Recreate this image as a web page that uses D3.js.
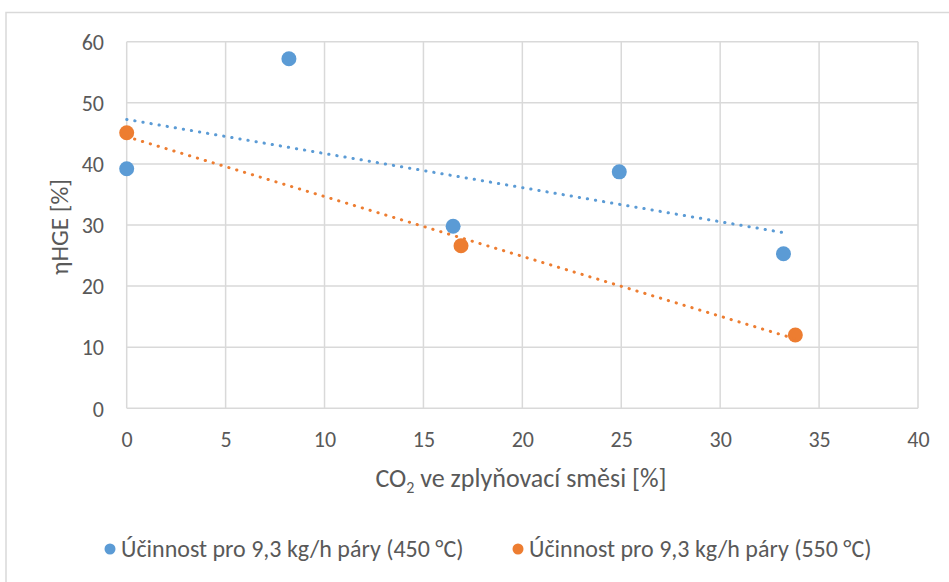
<!DOCTYPE html>
<html>
<head>
<meta charset="utf-8">
<script src="https://cdn.jsdelivr.net/npm/d3@7"></script>
<style>
  html, body { margin: 0; padding: 0; background: #fff; }
  svg { display: block; }
  text { font-family: Carlito, Calibri, Lato, "Open Sans", sans-serif; fill: #595959; }
</style>
</head>
<body>
<svg id="chart" width="949" height="582"></svg>
<script>
// ---- data ----
const seriesNames = ["Účinnost pro 9,3 kg/h páry (450 °C)", "Účinnost pro 9,3 kg/h páry (550 °C)"];
const co2_450 = [0, 8.2, 16.5, 24.9, 33.2];
const eff_450 = [39.2, 57.2, 29.8, 38.7, 25.3];
const co2_550 = [0, 16.9, 33.8];
const eff_550 = [45.1, 26.6, 12.0];
const xTicks = [0, 5, 10, 15, 20, 25, 30, 35, 40];
const yTicks = [0, 10, 20, 30, 40, 50, 60];
const xTitle = "ve zplyňovací směsi [%]";
const yTitle = "ηHGE [%]";
const colors = ["#5B9BD5", "#ED7D31"];

const svg = d3.select("#chart");
const W = 949, H = 582;

// outer chart border
svg.append("rect").attr("x", 6).attr("y", 12.5).attr("width", W + 10).attr("height", H + 10)
  .attr("fill", "#fff").attr("stroke", "#d9d9d9").attr("stroke-width", 1.5);

const x = d3.scaleLinear().domain([0, 40]).range([126.7, 918]);
const y = d3.scaleLinear().domain([0, 60]).range([408.3, 41.7]);

// gridlines
const grid = svg.append("g");
grid.selectAll("line.v").data(xTicks).join("line")
  .attr("x1", d => x(d)).attr("x2", d => x(d)).attr("y1", y(0)).attr("y2", y(60))
  .attr("stroke", "#d9d9d9").attr("stroke-width", 1.5);
grid.selectAll("line.h").data(yTicks).join("line")
  .attr("x1", x(0)).attr("x2", x(40)).attr("y1", d => y(d)).attr("y2", d => y(d))
  .attr("stroke", "#d9d9d9").attr("stroke-width", 1.5);

// axes (labels only)
const xAxis = d3.axisBottom(x).tickValues(xTicks).tickSize(0).tickPadding(0).tickFormat(d3.format("d"));
const gx = svg.append("g").attr("transform", `translate(0,${y(0)})`).call(xAxis);
gx.select(".domain").remove();
gx.selectAll("text").attr("dy", null).attr("y", 39).style("font-size", "22px").attr("fill", "#595959");

const yAxis = d3.axisLeft(y).tickValues(yTicks).tickSize(0).tickPadding(0).tickFormat(d3.format("d"));
const gy = svg.append("g").attr("transform", `translate(104,0)`).call(yAxis);
gy.select(".domain").remove();
gy.selectAll("text").attr("dy", "0.35em").attr("x", 0).style("font-size", "22px").attr("fill", "#595959");

// axis titles
const xt = svg.append("text").attr("x", 521).attr("y", 487).attr("text-anchor", "middle")
  .style("font-size", "26px");
xt.append("tspan").text("CO");
xt.append("tspan").attr("dy", 6).style("font-size", "16px").text("2");
xt.append("tspan").attr("dy", -6).text(" " + xTitle);

svg.append("text").attr("transform", "translate(68,227) rotate(-90)").attr("text-anchor", "middle")
  .style("font-size", "25px").text(yTitle);

// series
const series = [
  { xs: co2_450, ys: eff_450, color: colors[0] },
  { xs: co2_550, ys: eff_550, color: colors[1] }
];

function linreg(xs, ys) {
  const mx = d3.mean(xs), my = d3.mean(ys);
  let sxy = 0, sxx = 0;
  xs.forEach((xv, i) => { sxy += (xv - mx) * (ys[i] - my); sxx += (xv - mx) * (xv - mx); });
  const b = sxy / sxx; return { a: my - b * mx, b };
}

series.forEach(s => {
  svg.append("g").selectAll("circle").data(s.xs.map((xv, i) => [xv, s.ys[i]])).join("circle")
    .attr("cx", d => x(d[0])).attr("cy", d => y(d[1])).attr("r", 7.5).attr("fill", s.color);
});

series.forEach(s => {
  const r = linreg(s.xs, s.ys);
  const x0 = d3.min(s.xs), x1 = d3.max(s.xs);
  svg.append("line")
    .attr("x1", x(x0)).attr("y1", y(r.a + r.b * x0))
    .attr("x2", x(x1)).attr("y2", y(r.a + r.b * x1))
    .attr("stroke", s.color).attr("stroke-width", 3)
    .attr("stroke-linecap", "round").attr("stroke-dasharray", "0.3 7.9");
});

// legend
const legend = svg.append("g");
const legX = [110, 518];
seriesNames.forEach((name, i) => {
  legend.append("circle").attr("cx", legX[i]).attr("cy", 549).attr("r", 5.5).attr("fill", colors[i]);
  legend.append("text").attr("x", legX[i] + 11).attr("y", 549).attr("dy", "0.35em")
    .style("font-size", "24px").text(name);
});
</script>
</body>
</html>
